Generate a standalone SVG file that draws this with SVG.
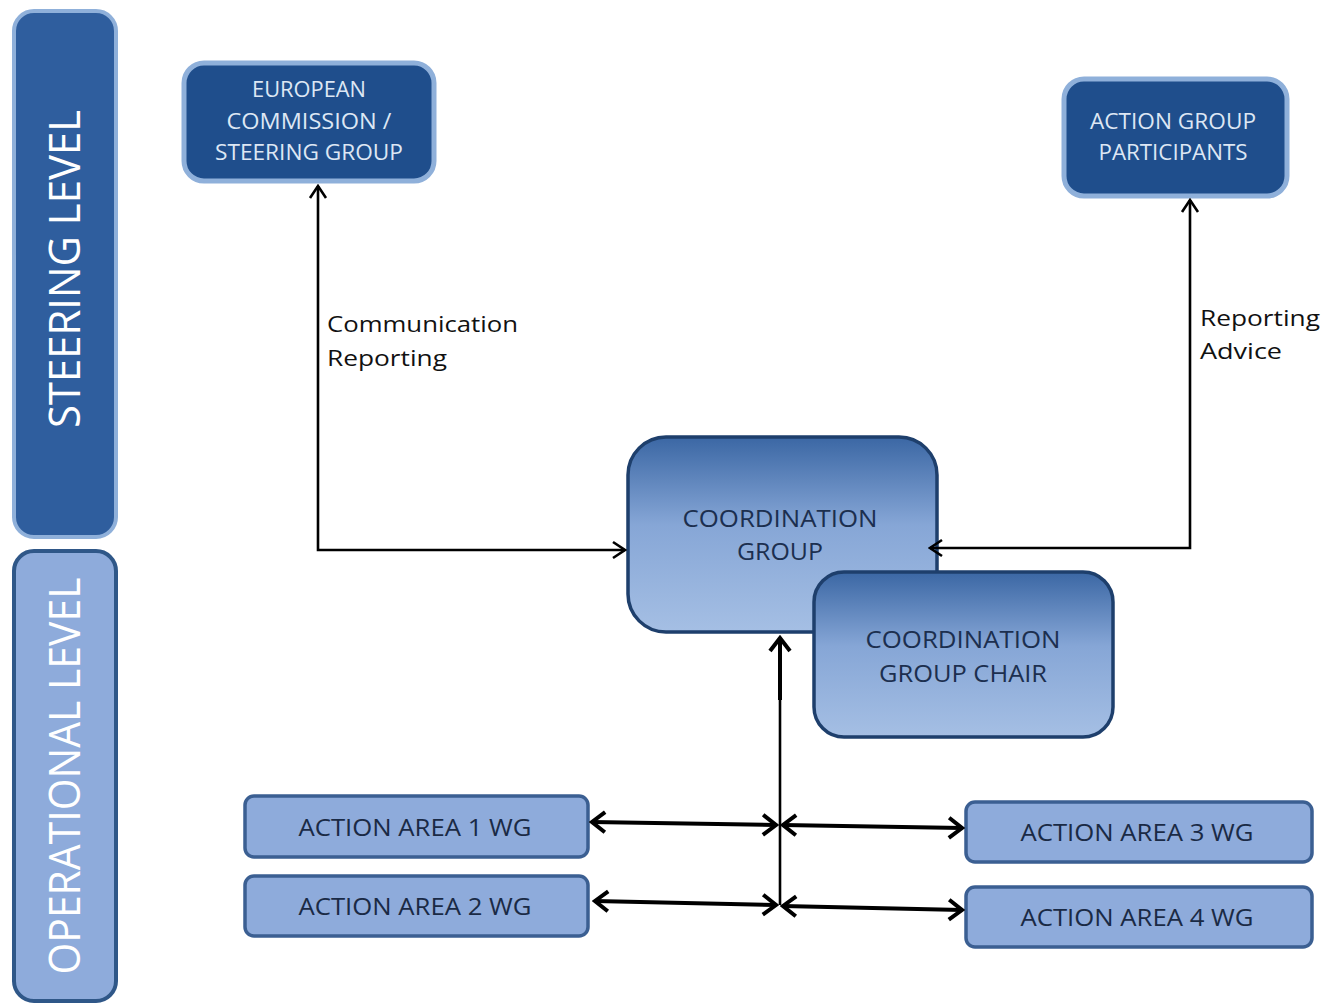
<svg xmlns="http://www.w3.org/2000/svg" width="1325" height="1004" viewBox="0 0 1325 1004">
<defs>
<linearGradient id="cg" x1="0" y1="0" x2="0" y2="1">
<stop offset="0" stop-color="#3b67a4"/>
<stop offset="0.45" stop-color="#86a6d6"/>
<stop offset="1" stop-color="#a5bfe4"/>
</linearGradient>
<marker id="a" viewBox="0 0 16 20" refX="14" refY="10" markerWidth="16" markerHeight="20" markerUnits="userSpaceOnUse" orient="auto-start-reverse">
<path d="M2,2 L14,10 L2,18" fill="none" stroke="#000" stroke-width="2.6"/>
</marker>
<marker id="b" viewBox="0 0 18 24" refX="15" refY="12" markerWidth="18" markerHeight="24" markerUnits="userSpaceOnUse" orient="auto-start-reverse">
<path d="M2,2 L15,12 L2,22" fill="none" stroke="#000" stroke-width="4"/>
</marker>
<style>
.lvl{font-family:"Open Sans","Liberation Sans",sans-serif;fill:#ffffff;font-size:44px}
.dk{fill:#1f4e8c;stroke:#8fb0da;stroke-width:5}
.dt{font-family:"Open Sans","Liberation Sans",sans-serif;fill:#dde7f4;font-size:21px;text-anchor:middle;dominant-baseline:central}
.cgb{fill:url(#cg);stroke:#1e3f6c;stroke-width:3.5}
.ct{font-family:"Open Sans","Liberation Sans",sans-serif;fill:#1c2f4f;font-size:24px;text-anchor:middle;dominant-baseline:central}
.aa{fill:#8eabdb;stroke:#3b5f92;stroke-width:3.5}
.at{font-family:"Open Sans","Liberation Sans",sans-serif;fill:#1a2a45;font-size:23px;text-anchor:middle;dominant-baseline:central}
.lb{font-family:"Open Sans","Liberation Sans",sans-serif;fill:#111;font-size:22px;dominant-baseline:central}
.l1{fill:none;stroke:#000;stroke-width:2.6}
.l2{fill:none;stroke:#000;stroke-width:4}
</style>
</defs>
<rect width="1325" height="1004" fill="#ffffff"/>

<g id="steering-level">
<rect x="14" y="11" width="102" height="526" rx="20" fill="#2f5e9e" stroke="#8fb0da" stroke-width="4"/>
<text class="lvl" transform="translate(80,269) rotate(-90)" text-anchor="middle" textLength="318" lengthAdjust="spacingAndGlyphs">STEERING LEVEL</text>
</g>
<g id="operational-level">
<rect x="14" y="551" width="102" height="450" rx="20" fill="#8eabdb" stroke="#2f5788" stroke-width="4"/>
<text class="lvl" transform="translate(80,776) rotate(-90)" text-anchor="middle" textLength="397" lengthAdjust="spacingAndGlyphs">OPERATIONAL LEVEL</text>
</g>

<g id="european-commission">
<rect class="dk" x="184" y="63" width="250" height="118" rx="20"/>
<text class="dt" x="309" y="89" textLength="114" lengthAdjust="spacingAndGlyphs">EUROPEAN</text>
<text class="dt" x="309" y="121" textLength="165" lengthAdjust="spacingAndGlyphs">COMMISSION /</text>
<text class="dt" x="309" y="152" textLength="188" lengthAdjust="spacingAndGlyphs">STEERING  GROUP</text>
</g>

<g id="action-group-participants">
<rect class="dk" x="1064" y="79" width="223" height="117" rx="20"/>
<text class="dt" x="1173" y="121" textLength="166" lengthAdjust="spacingAndGlyphs">ACTION GROUP</text>
<text class="dt" x="1173" y="152" textLength="149" lengthAdjust="spacingAndGlyphs">PARTICIPANTS</text>
</g>

<g id="coordination-group">
<rect class="cgb" x="628" y="437" width="309" height="195" rx="38"/>
<text class="ct" x="780" y="517" textLength="195" lengthAdjust="spacingAndGlyphs">COORDINATION</text>
<text class="ct" x="780" y="550" textLength="86" lengthAdjust="spacingAndGlyphs">GROUP</text>
</g>

<g id="coordination-group-chair">
<rect class="cgb" x="814" y="572" width="299" height="165" rx="30"/>
<text class="ct" x="963" y="638" textLength="195" lengthAdjust="spacingAndGlyphs">COORDINATION</text>
<text class="ct" x="963" y="672" textLength="168" lengthAdjust="spacingAndGlyphs">GROUP CHAIR</text>
</g>

<g id="action-area-1">
<rect class="aa" x="245" y="796" width="343" height="61" rx="9"/>
<text class="at" x="415" y="827" textLength="233" lengthAdjust="spacingAndGlyphs">ACTION AREA 1 WG</text>
</g>
<g id="action-area-2">
<rect class="aa" x="245" y="876" width="343" height="60" rx="9"/>
<text class="at" x="415" y="906" textLength="233" lengthAdjust="spacingAndGlyphs">ACTION AREA 2 WG</text>
</g>
<g id="action-area-3">
<rect class="aa" x="966" y="802" width="346" height="60" rx="9"/>
<text class="at" x="1137" y="832" textLength="233" lengthAdjust="spacingAndGlyphs">ACTION AREA 3 WG</text>
</g>
<g id="action-area-4">
<rect class="aa" x="966" y="887" width="346" height="60" rx="9"/>
<text class="at" x="1137" y="917" textLength="233" lengthAdjust="spacingAndGlyphs">ACTION AREA 4 WG</text>
</g>

<g id="connectors">
<polyline class="l1" points="625,550 318,550 318,186" marker-start="url(#a)" marker-end="url(#a)"/>
<polyline class="l1" points="930,548 1190,548 1190,200" marker-start="url(#a)" marker-end="url(#a)"/>
<line x1="780" y1="905" x2="780" y2="700" stroke="#000" stroke-width="2.6"/>
<line class="l2" x1="780" y1="700" x2="780" y2="638" marker-end="url(#b)"/>
<line class="l2" x1="592" y1="822" x2="776" y2="825" marker-start="url(#b)" marker-end="url(#b)"/>
<line class="l2" x1="783" y1="825" x2="962" y2="828" marker-start="url(#b)" marker-end="url(#b)"/>
<line class="l2" x1="595" y1="901" x2="776" y2="905" marker-start="url(#b)" marker-end="url(#b)"/>
<line class="l2" x1="783" y1="906" x2="962" y2="910" marker-start="url(#b)" marker-end="url(#b)"/>
<text class="lb" x="327" y="323" textLength="191" lengthAdjust="spacingAndGlyphs">Communication</text>
<text class="lb" x="327" y="357" textLength="120" lengthAdjust="spacingAndGlyphs">Reporting</text>
<text class="lb" x="1200" y="317" textLength="120" lengthAdjust="spacingAndGlyphs">Reporting</text>
<text class="lb" x="1200" y="350" textLength="82" lengthAdjust="spacingAndGlyphs">Advice</text>
</g>
</svg>
